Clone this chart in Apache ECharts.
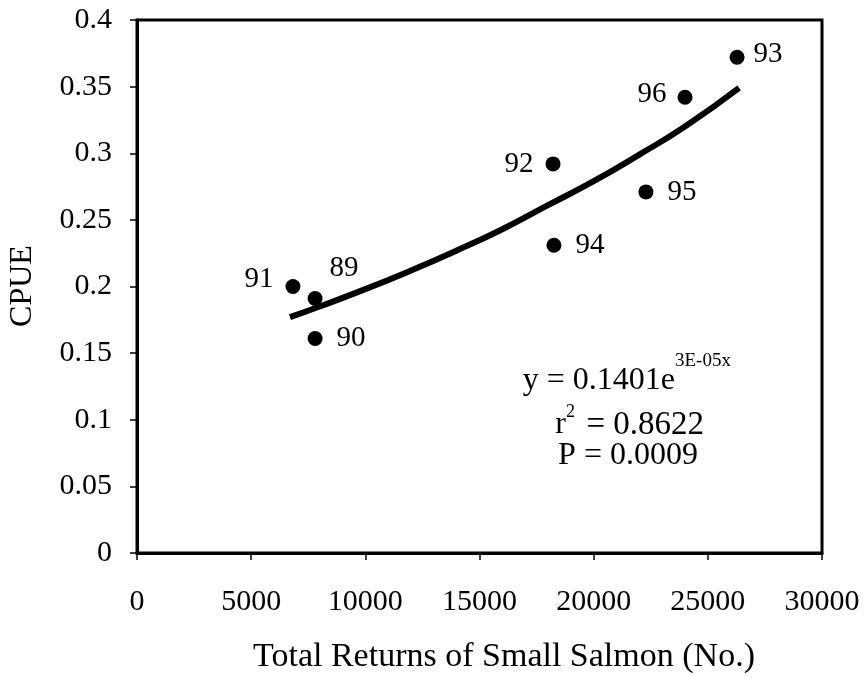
<!DOCTYPE html>
<html>
<head>
<meta charset="utf-8">
<script src="https://cdn.jsdelivr.net/npm/echarts@6/dist/echarts.min.js"></script>
<style>
html,body{margin:0;padding:0;background:#fff;}
#chart{width:867px;height:677px;}
</style>
</head>
<body>
<div id="chart"></div>
<script>
// ---- data ----
var years = ['89', '90', '91', '92', '93', '94', '95', '96'];
var returns = [7800, 7800, 6830, 18220, 26280, 18260, 22290, 24000];
var cpue = [0.191, 0.161, 0.200, 0.292, 0.372, 0.231, 0.271, 0.342];
var trendX = [6700, 8000, 10000, 12000, 14000, 16000, 18000, 20000, 22000, 24000, 26370];
var trendY = [0.177, 0.185, 0.198, 0.212, 0.227, 0.243, 0.261, 0.279, 0.299, 0.320, 0.349];
var xTicks = [0, 5000, 10000, 15000, 20000, 25000, 30000];
var yTicks = [0, 0.05, 0.1, 0.15, 0.2, 0.25, 0.3, 0.35, 0.4];

// ---- label placement (style) ----
var labelStyle = {
  '89': {position: 'right', distance: 7, offset: [0, -30]},
  '90': {position: 'right', distance: 14},
  '91': {position: 'left', distance: 12, offset: [0, -7]},
  '92': {position: 'left', distance: 12},
  '93': {position: 'right', distance: 9, offset: [0, -3]},
  '94': {position: 'right', distance: 14},
  '95': {position: 'right', distance: 14},
  '96': {position: 'left', distance: 11, offset: [0, -3]}
};

var FONT = 'Liberation Serif';
var chart = echarts.init(document.getElementById('chart'), null, {renderer: 'canvas'});

var scatterData = years.map(function (yr, i) {
  var ls = labelStyle[yr];
  return {
    value: [returns[i], cpue[i]],
    name: yr,
    label: Object.assign({show: true, formatter: yr}, ls)
  };
});
var trendData = trendX.map(function (x, i) { return [x, trendY[i]]; });

function txt(x, y, s, size, align) {
  return {type: 'text', x: x, y: y, style: {text: s, font: size + 'px "Liberation Serif"', fill: '#000', textAlign: align, textVerticalAlign: 'middle'}};
}

chart.setOption({
  animation: false,
  backgroundColor: '#fff',
  grid: {left: 137, right: 45, top: 20, bottom: 124, show: true, borderColor: '#000', borderWidth: 3, backgroundColor: 'transparent'},
  xAxis: {
    type: 'value', min: xTicks[0], max: xTicks[xTicks.length - 1], interval: 5000,
    axisLine: {show: true, lineStyle: {color: '#000', width: 3}},
    axisTick: {show: true, length: 7, lineStyle: {color: '#000', width: 1.5}},
    splitLine: {show: false},
    axisLabel: {color: '#000', fontFamily: FONT, fontSize: 30, margin: 34, formatter: function (v) { return String(v); }}
  },
  yAxis: {
    type: 'value', min: yTicks[0], max: yTicks[yTicks.length - 1], interval: 0.05,
    axisLine: {show: true, lineStyle: {color: '#000', width: 3}},
    axisTick: {show: true, length: 7, lineStyle: {color: '#000', width: 1.5}},
    splitLine: {show: false},
    axisLabel: {color: '#000', fontFamily: FONT, fontSize: 30, margin: 25, formatter: function (v) { return String(+v.toFixed(2)); }}
  },
  series: [
    {
      type: 'line', data: trendData, smooth: true, showSymbol: false, symbol: 'none',
      lineStyle: {color: '#000', width: 6}, z: 2
    },
    {
      type: 'scatter', data: scatterData, symbol: 'circle', symbolSize: 15,
      itemStyle: {color: '#000', opacity: 1},
      label: {color: '#000', fontFamily: FONT, fontSize: 29, opacity: 1},
      emphasis: {disabled: true},
      z: 3
    }
  ],
  graphic: [
    txt(504, 657, 'Total Returns of Small Salmon (No.)', 34, 'center'),
    {type: 'text', x: 23, y: 286, rotation: Math.PI / 2, style: {text: 'CPUE', font: '32px "Liberation Serif"', fill: '#000', textAlign: 'center', textVerticalAlign: 'middle'}},
    txt(675, 381, 'y = 0.1401e', 32, 'right'),
    txt(675, 361, '3E-05x', 19, 'left'),
    txt(566, 425, 'r', 32, 'right'),
    txt(566, 412, '2', 18, 'left'),
    txt(704, 425, '= 0.8622', 33, 'right'),
    txt(628, 456, 'P = 0.0009', 32, 'center')
  ]
});
</script>
</body>
</html>
